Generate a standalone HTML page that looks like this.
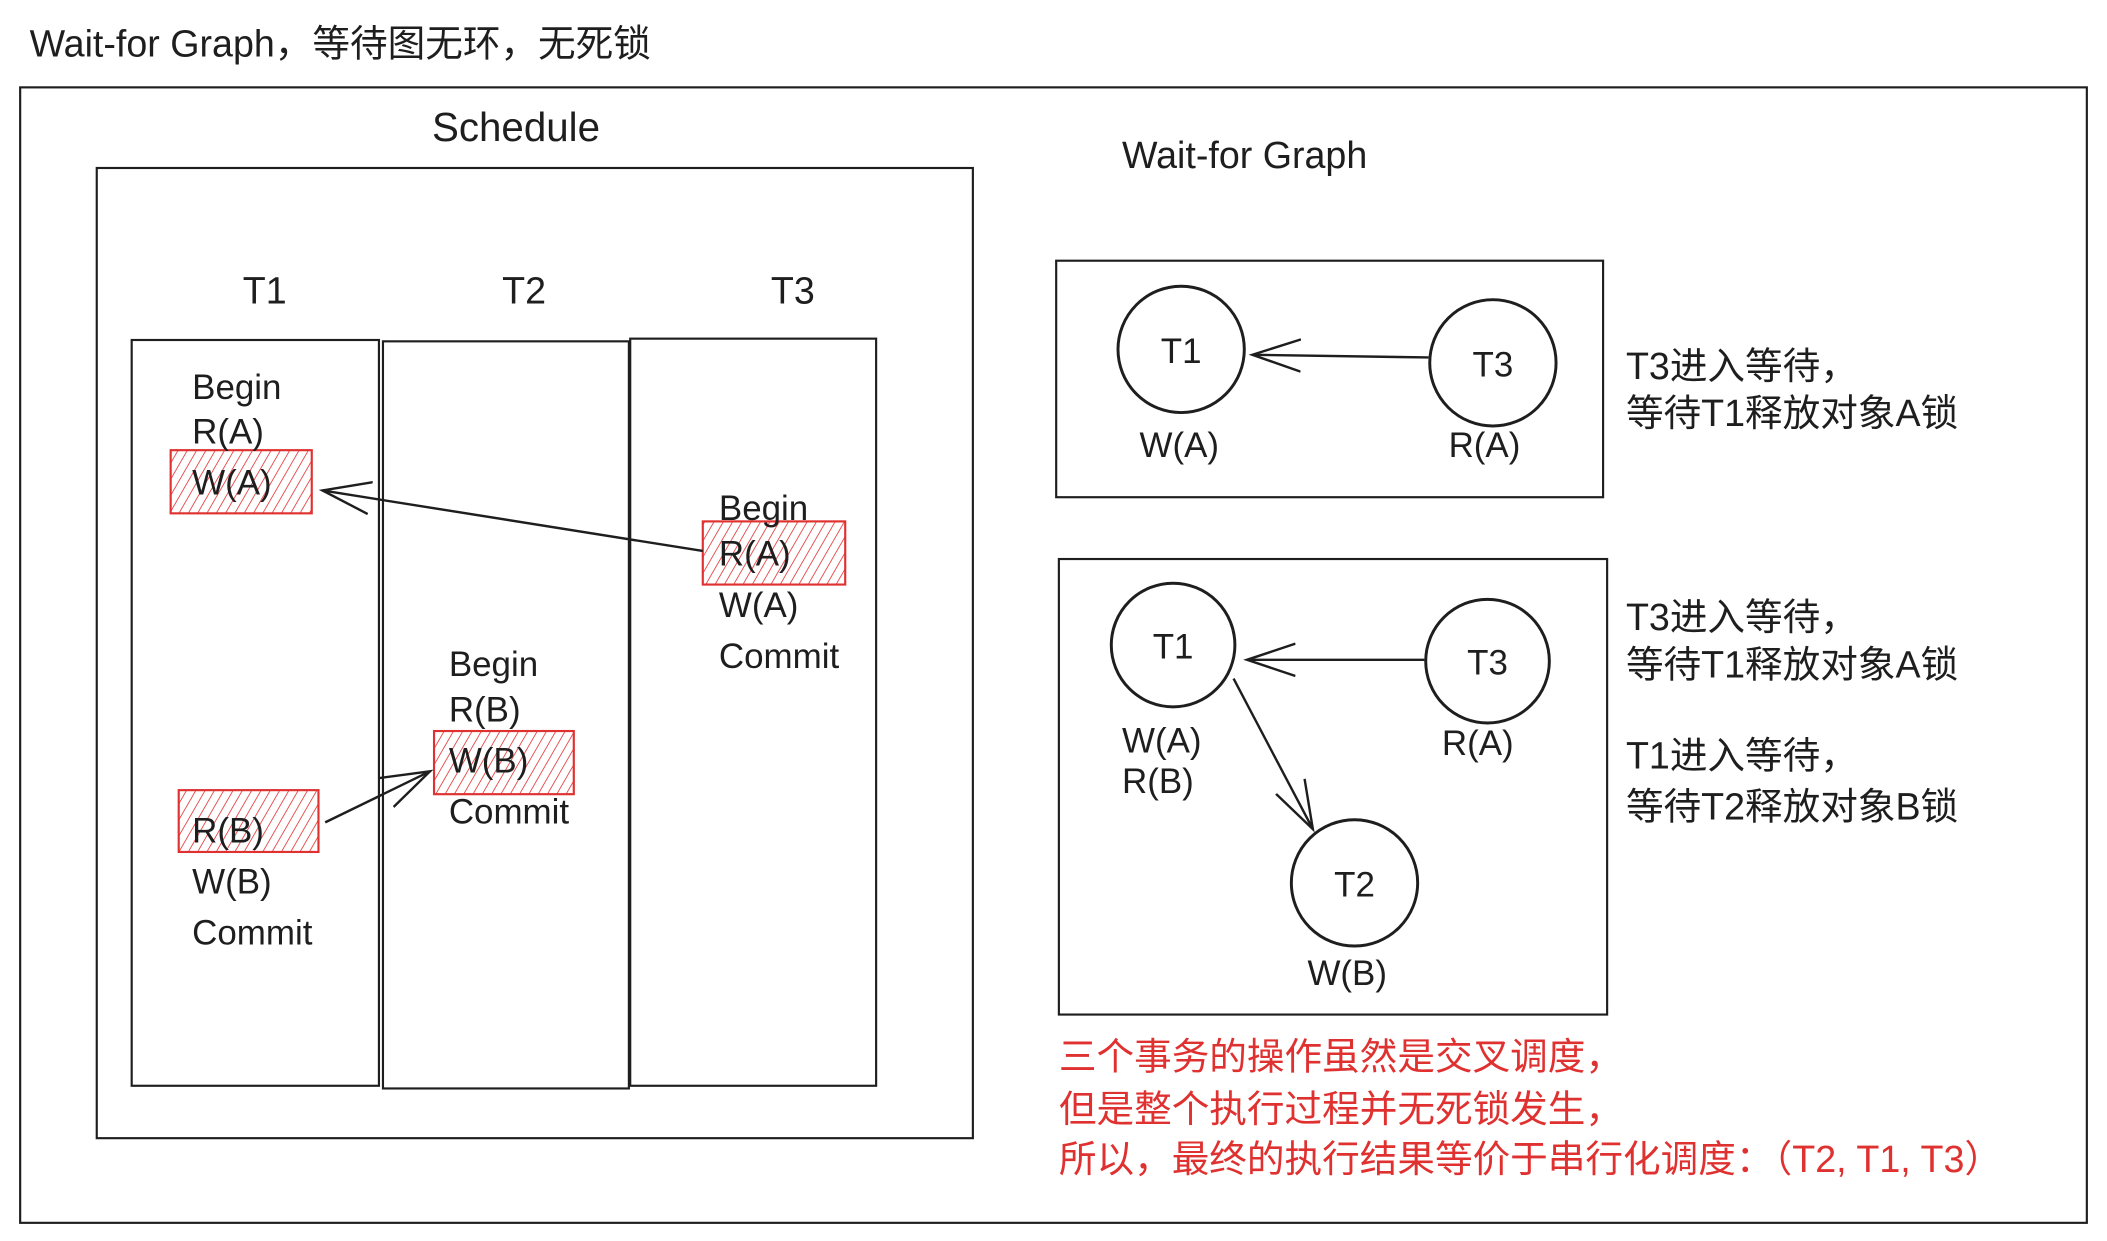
<!DOCTYPE html>
<html><head><meta charset="utf-8"><style>
html,body{margin:0;padding:0;background:#fff;}
svg{display:block;}
text{font-family:"Liberation Sans","Noto Sans CJK SC",sans-serif;fill:#1e1e1e;}
.r{fill:#e03131;}
</style></head><body>
<svg width="2107" height="1241" viewBox="0 0 1568 923.5" xmlns="http://www.w3.org/2000/svg">
<defs>
<pattern id="h" width="6" height="6" patternUnits="userSpaceOnUse" patternTransform="rotate(30)">
<line x1="0" y1="0" x2="0" y2="6" stroke="#e03131" stroke-width="1.2"/>
</pattern>
<marker id="a" markerWidth="40" markerHeight="30" refX="36" refY="13" orient="auto" markerUnits="userSpaceOnUse">
<path d="M0,1 L36,13 L0,25" fill="none" stroke="#1e1e1e" stroke-width="1.8"/>
</marker>
</defs>
<g fill="none" stroke="#1e1e1e" stroke-width="1.6">
<rect x="15" y="65" width="1538" height="845"/>
<rect x="72" y="125" width="652" height="722"/>
<rect x="98" y="253" width="184" height="555"/>
<rect x="285" y="254" width="183" height="556"/>
<rect x="469" y="252" width="183" height="556"/>
<rect x="786" y="194" width="407" height="176"/>
<rect x="788" y="416" width="408" height="339"/>
</g>
<g fill="none" stroke="#1e1e1e" stroke-width="2.2">
<circle cx="879" cy="260" r="47"/>
<circle cx="1111" cy="270" r="47"/>
<circle cx="873" cy="480" r="46"/>
<circle cx="1107" cy="492" r="46"/>
<circle cx="1008" cy="657" r="47"/>
</g>
<g stroke="#e03131" stroke-width="1.6" fill="url(#h)">
<rect x="127" y="335" width="105" height="47"/>
<rect x="133" y="588" width="104" height="46"/>
<rect x="323" y="544" width="104" height="47"/>
<rect x="523" y="388" width="106" height="47"/>
</g>
<g stroke="#1e1e1e" stroke-width="1.8" fill="none">
<line x1="523" y1="410" x2="240" y2="365" marker-end="url(#a)"/>
<line x1="242" y1="612" x2="320" y2="574" marker-end="url(#a)"/>
<line x1="1063" y1="266" x2="932" y2="264" marker-end="url(#a)"/>
<line x1="1060" y1="491" x2="928" y2="491" marker-end="url(#a)"/>
<line x1="918" y1="505" x2="977" y2="617" marker-end="url(#a)"/>
</g>
<text x="22" y="42" font-size="28">Wait-for Graph，等待图无环，无死锁</text>
<text x="384" y="105" font-size="30" text-anchor="middle">Schedule</text>
<g font-size="28" text-anchor="middle">
<text x="197" y="226">T1</text><text x="390" y="226">T2</text><text x="590" y="226">T3</text>
</g>
<g font-size="26">
<text x="143" y="297">Begin</text><text x="143" y="330">R(A)</text><text x="143" y="368">W(A)</text>
<text x="143" y="627">R(B)</text><text x="143" y="665">W(B)</text><text x="143" y="703">Commit</text>
<text x="334" y="503">Begin</text><text x="334" y="537">R(B)</text><text x="334" y="575">W(B)</text><text x="334" y="613">Commit</text>
<text x="535" y="387">Begin</text><text x="535" y="421">R(A)</text><text x="535" y="459">W(A)</text><text x="535" y="497">Commit</text>
</g>
<text x="835" y="125" font-size="28">Wait-for Graph</text>
<g font-size="26" text-anchor="middle">
<text x="879" y="270">T1</text><text x="1111" y="280">T3</text>
<text x="873" y="490">T1</text><text x="1107" y="502">T3</text><text x="1008" y="667">T2</text>
</g>
<g font-size="26">
<text x="848" y="340">W(A)</text><text x="1078" y="340">R(A)</text>
<text x="835" y="560">W(A)</text><text x="835" y="590">R(B)</text>
<text x="1073" y="562">R(A)</text><text x="973" y="733">W(B)</text>
</g>
<g font-size="28">
<text x="1210" y="282">T3进入等待，</text>
<text x="1210" y="317">等待T1释放对象A锁</text>
<text x="1210" y="469">T3进入等待，</text>
<text x="1210" y="504">等待T1释放对象A锁</text>
<text x="1210" y="572">T1进入等待，</text>
<text x="1210" y="610">等待T2释放对象B锁</text>
</g>
<g font-size="28">
<text class="r" x="788" y="796">三个事务的操作虽然是交叉调度，</text>
<text class="r" x="788" y="835">但是整个执行过程并无死锁发生，</text>
<text class="r" x="788" y="872">所以，最终的执行结果等价于串行化调度：（T2, T1, T3）</text>
</g>
</svg>
</body></html>
